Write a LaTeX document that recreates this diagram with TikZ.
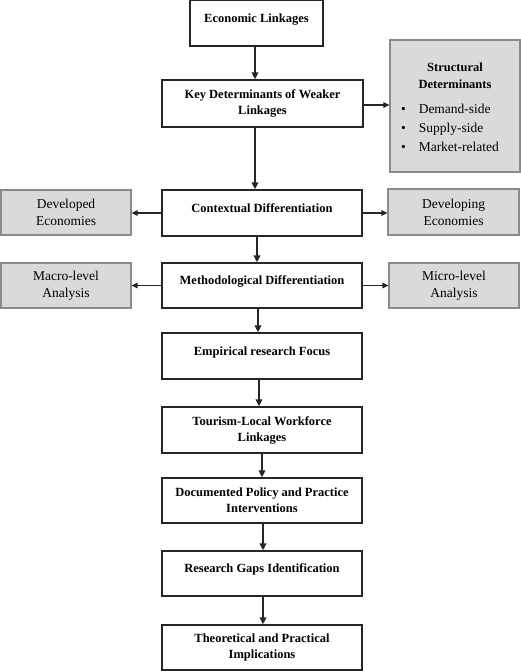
\documentclass[tikz,border=0pt]{standalone}
\usepackage{fontspec}
\setmainfont{Liberation Serif}
\usetikzlibrary{arrows.meta}
\definecolor{boxline}{HTML}{262626}
\definecolor{grayfill}{HTML}{DADADA}
\definecolor{grayline}{HTML}{8A8A8A}
\newcommand{\titlefnt}{\fontsize{12.5}{17}\selectfont\bfseries}
\begin{document}
\begin{tikzpicture}[x=1pt,y=-1pt,
  mainbox/.style={draw=boxline, line width=1.3pt, fill=white, minimum width=200pt, minimum height=46pt,
    align=center, inner sep=2pt, font=\fontsize{12.5}{16}\selectfont\bfseries},
  oneline/.style={text depth=10pt},
  graybox/.style={draw=grayline, line width=1.2pt, fill=grayfill, minimum width=130pt, minimum height=45pt,
    align=center, inner sep=2pt, font=\fontsize{13.5}{17}\selectfont},
  varr/.style={draw=boxline, line width=2pt, -{Triangle[width=6.5pt,length=7pt]}},
  harr/.style={draw=boxline, line width=1.3pt, -{Triangle[width=5.5pt,length=6pt]}}
]
\useasboundingbox (0,0) rectangle (520,671);
% main column
\node[mainbox, oneline, minimum width=133pt] (econ) at (256.5,23) {Economic Linkages};
\node[mainbox, minimum width=201pt, minimum height=47pt] (key) at (262.5,103.5) {Key Determinants of Weaker\\Linkages};
\node[mainbox, oneline] (ctx) at (262,213) {Contextual Differentiation};
\node[mainbox, oneline, minimum height=45pt] (meth) at (262,285.5) {Methodological Differentiation};
\node[mainbox, oneline] (emp) at (262,356) {Empirical research Focus};
\node[mainbox] (tour) at (262,430) {Tourism-Local Workforce\\Linkages};
\node[mainbox, minimum height=45pt] (doc) at (262,500.5) {Documented Policy and Practice\\Interventions};
\node[mainbox, oneline, minimum height=45pt] (gaps) at (262,573.5) {Research Gaps Identification};
\node[mainbox, minimum height=45pt] (theo) at (262,647.5) {Theoretical and Practical\\Implications};
% side boxes
\node[graybox, minimum height=132pt] (struct) at (455,106) {\rule{0pt}{17pt}\titlefnt Structural\\\titlefnt Determinants\\[12pt]\normalfont\fontsize{13.5}{17}\selectfont
  \begin{tabular}{@{}l@{\hspace{13pt}}l@{}}
  \textbullet & Demand-side\\[2pt]
  \textbullet & Supply-side\\[2pt]
  \textbullet & Market-related
  \end{tabular}\kern10pt};
\node[graybox] (dev) at (66,212.5) {Developed\\Economies};
\node[graybox, minimum width=131pt, minimum height=46pt] (deving) at (453.5,212) {Developing\\Economies};
\node[graybox] (macro) at (66,285.5) {Macro-level\\Analysis};
\node[graybox] (micro) at (454,285.5) {Micro-level\\Analysis};
% vertical connectors
\draw[varr] ([xshift=-1.5pt]econ.south) -- ([xshift=-7.5pt]key.north);
\draw[varr] ([xshift=-7.5pt]key.south) -- ([xshift=-7pt]ctx.north);
\draw[varr] ([xshift=-5pt]ctx.south) -- ([xshift=-5pt]meth.north);
\draw[varr] ([xshift=-4pt]meth.south) -- ([xshift=-4pt]emp.north);
\draw[varr] ([xshift=-3pt]emp.south) -- ([xshift=-3pt]tour.north);
\draw[varr] (tour.south) -- (doc.north);
\draw[varr] ([xshift=1pt]doc.south) -- ([xshift=1pt]gaps.north);
\draw[varr] ([xshift=1pt]gaps.south) -- ([xshift=1pt]theo.north);
% horizontal connectors
\draw[harr] ([yshift=-1.5pt]key.east) -- ([yshift=-1.5pt]key.east -| struct.west);
\draw[harr] (ctx.west) -- (ctx.west -| dev.east);
\draw[harr] (ctx.east) -- (ctx.east -| deving.west);
\draw[harr] (meth.west) -- (meth.west -| macro.east);
\draw[harr] (meth.east) -- (meth.east -| micro.west);
\end{tikzpicture}
\end{document}
